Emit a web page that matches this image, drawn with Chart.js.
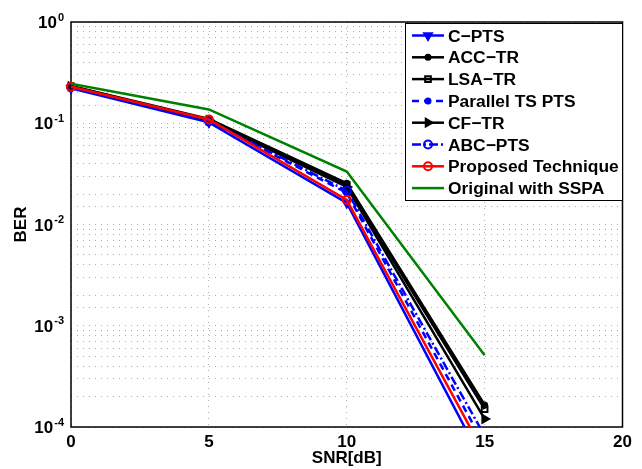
<!DOCTYPE html>
<html>
  <head>
    <title>BER vs SNR</title>
    <style>
      body { margin: 0; background: #fff; }
      #berChart { display: block; }
    </style>
    <script src="https://cdn.jsdelivr.net/npm/chart.js"></script>
  </head>
  <body>
    <canvas id="berChart" width="642" height="469"></canvas>
    <script>
      // x values (SNR in dB) and BER for each scheme
      const snr = [0, 5, 10, 15];
      const cPts = [0.222, 0.102, 0.0163, 4.2e-5];
      const accTr = [0.234, 0.110, 0.0255, 1.65e-4];
      const lsaTr = [0.232, 0.108, 0.0245, 1.5e-4];
      const parallelTsPts = [0.228, 0.106, 0.0205, 6.6e-5];
      const cfTr = [0.231, 0.107, 0.0235, 1.2e-4];
      const abcPts = [0.228, 0.105, 0.0216, 8.2e-5];
      const proposed = [0.229, 0.109, 0.0175, 5.4e-5];
      const originalSspa = [0.245, 0.137, 0.0333, 5.1e-4];

      const seriesNames = ['C\u2212PTS', 'ACC\u2212TR', 'LSA\u2212TR', 'Parallel TS PTS',
                           'CF\u2212TR', 'ABC\u2212PTS', 'Proposed Technique', 'Original with SSPA'];
      const seriesValues = [cPts, accTr, lsaTr, parallelTsPts, cfTr, abcPts, proposed, originalSspa];

      const yTickExponents = [-4, -3, -2, -1, 0];
      const xTicks = [0, 5, 10, 15, 20];

      const FAMILY = '"Liberation Sans", Arial, Helvetica, sans-serif';
      const BLUE = '#0000ff', BLACK = '#000000', RED = '#ff0000', GREEN = '#008000';
      const NONE = 'rgba(0,0,0,0)';

      // line / marker look of each series (same order as seriesNames)
      const styles = [
        {color: BLUE, dash: [], point: 'triangle', rot: 180, r: 4.5, fill: BLUE},
        {color: BLACK, dash: [], point: 'circle', rot: 0, r: 2.5, fill: BLACK},
        {color: BLACK, dash: [], point: 'rect', rot: 0, r: 4, fill: NONE},
        {color: BLUE, dash: [7, 5], point: 'circle', rot: 0, r: 2.5, fill: BLUE},
        {color: BLACK, dash: [], point: 'triangle', rot: 90, r: 4.5, fill: BLACK},
        {color: BLUE, dash: [9, 3, 2, 3], point: 'circle', rot: 0, r: 4, fill: NONE},
        {color: RED, dash: [], point: 'circle', rot: 0, r: 4, fill: NONE},
        {color: GREEN, dash: [], point: false, rot: 0, r: 0, fill: NONE}
      ];

      const datasets = seriesValues.map((vals, i) => ({
        label: seriesNames[i],
        data: vals.map((v, k) => ({x: snr[k], y: v})),
        borderColor: styles[i].color,
        borderWidth: 2.5,
        borderDash: styles[i].dash,
        pointStyle: styles[i].point,
        pointRotation: styles[i].rot,
        pointRadius: styles[i].r,
        pointBorderWidth: 2,
        pointBorderColor: styles[i].color,
        pointBackgroundColor: styles[i].fill,
        tension: 0,
        fill: false,
        order: seriesValues.length - i,
        clip: {left: 8, top: 8, right: 8, bottom: 0}
      }));

      const matlabDecor = {
        id: 'matlabDecor',
        beforeDatasetsDraw(chart) {
          const {ctx, chartArea: a} = chart;
          ctx.save();
          ctx.strokeStyle = '#000';
          ctx.lineWidth = 1.5;
          ctx.strokeRect(a.left, a.top, a.right - a.left, a.bottom - a.top);
          ctx.restore();
        },
        afterDraw(chart) {
          const ctx = chart.ctx;
          const yScale = chart.scales.y;
          ctx.save();
          ctx.fillStyle = '#000';
          ctx.textAlign = 'right';
          ctx.textBaseline = 'alphabetic';
          // 10^n tick labels
          yTickExponents.forEach(e => {
            const py = yScale.getPixelForValue(Math.pow(10, e));
            const exp = String(e);
            ctx.font = 'bold 11px ' + FAMILY;
            const w = ctx.measureText(exp).width;
            ctx.fillText(exp, 64, py - 1.5);
            ctx.font = 'bold 17px ' + FAMILY;
            ctx.fillText('10', 64 - w - 1, py + 6);
          });

          // legend box
          const box = {left: 405.5, top: 23.5, right: 622.5, bottom: 200.5};
          ctx.fillStyle = '#fff';
          ctx.fillRect(box.left, box.top, box.right - box.left, box.bottom - box.top);
          ctx.strokeStyle = '#000';
          ctx.lineWidth = 1;
          ctx.strokeRect(box.left, box.top, box.right - box.left, box.bottom - box.top);

          ctx.textAlign = 'left';
          ctx.font = 'bold 17.4px ' + FAMILY;
          chart.data.datasets.forEach((ds, i) => {
            const cy = 35.5 + i * 21.8;
            ctx.strokeStyle = ds.borderColor;
            ctx.lineWidth = ds.borderWidth;
            ctx.setLineDash(ds.borderDash || []);
            ctx.beginPath();
            ctx.moveTo(412, cy);
            ctx.lineTo(444, cy);
            ctx.stroke();
            ctx.setLineDash([]);
            if (ds.pointStyle && Chart.helpers && Chart.helpers.drawPoint) {
              ctx.fillStyle = ds.pointBackgroundColor;
              ctx.strokeStyle = ds.pointBorderColor;
              ctx.lineWidth = ds.pointBorderWidth;
              Chart.helpers.drawPoint(ctx, {
                pointStyle: ds.pointStyle,
                rotation: ds.pointRotation,
                radius: ds.pointRadius,
                borderWidth: ds.pointBorderWidth
              }, 428, cy);
            }
            ctx.fillStyle = '#000';
            ctx.fillText(ds.label, 448, cy + 6);
          });
          ctx.restore();
        }
      };

      const gridColor = 'rgba(0,0,0,0.32)';
      const ctx = document.getElementById('berChart').getContext('2d');
      new Chart(ctx, {
        type: 'line',
        data: {datasets},
        plugins: [matlabDecor],
        options: {
          responsive: false,
          animation: false,
          devicePixelRatio: 1,
          layout: {padding: {top: 22, right: 19.5, left: 0, bottom: 0}},
          plugins: {legend: {display: false}, tooltip: {enabled: false}},
          scales: {
            x: {
              type: 'linear',
              min: xTicks[0],
              max: xTicks[xTicks.length - 1],
              afterBuildTicks(s) { s.ticks = xTicks.map(v => ({value: v})); },
              afterFit(s) { s.height = 42; },
              ticks: {color: '#000', padding: 5, font: {family: FAMILY, size: 17, weight: 'bold'}},
              grid: {drawTicks: false, color: gridColor, lineWidth: 1},
              border: {display: false, dash: [1, 5]},
              title: {
                display: true,
                text: 'SNR[dB]',
                color: '#000',
                padding: {top: 0, bottom: 0},
                font: {family: FAMILY, size: 17, weight: 'bold'}
              }
            },
            y: {
              type: 'logarithmic',
              min: Math.pow(10, yTickExponents[0]),
              max: Math.pow(10, yTickExponents[yTickExponents.length - 1]),
              afterFit(s) { s.width = 71; },
              ticks: {autoSkip: false, callback: () => ''},
              grid: {drawTicks: false, color: gridColor, lineWidth: 1},
              border: {display: false, dash: [1, 5]},
              title: {
                display: true,
                text: 'BER',
                color: '#000',
                padding: {top: 11, bottom: 0},
                font: {family: FAMILY, size: 17, weight: 'bold'}
              }
            }
          }
        }
      });
    </script>
  </body>
</html>
